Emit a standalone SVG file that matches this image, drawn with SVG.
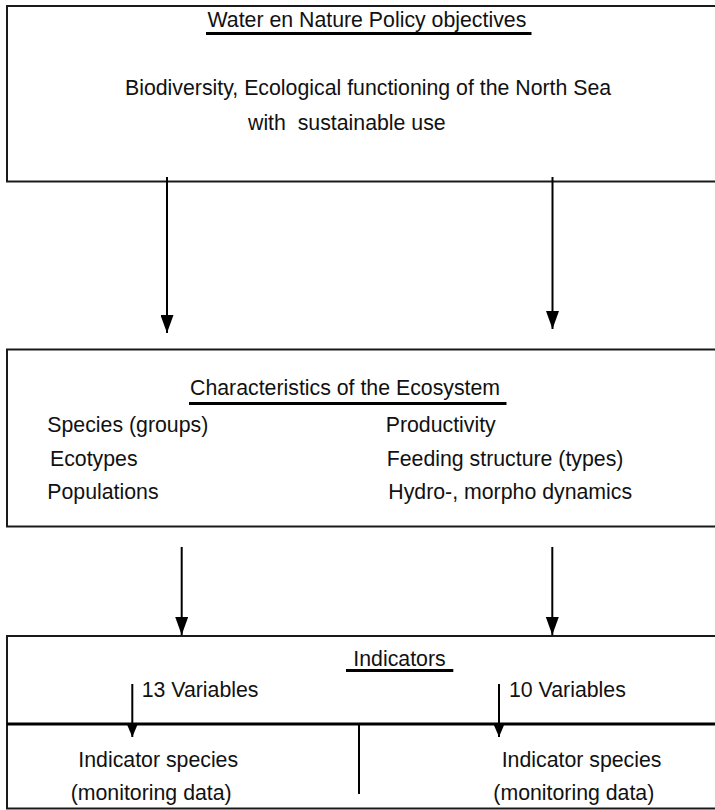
<svg xmlns="http://www.w3.org/2000/svg" width="715" height="810" viewBox="0 0 715 810">
<style>
  .box { fill: none; stroke: #1a1a1a; stroke-width: 2; }
  .t { font-family: "Liberation Sans", Arial, sans-serif; font-size: 21.3px; fill: #111; }
  .ul { stroke: #000; stroke-width: 3; }
  .conn { stroke: #000; stroke-width: 2; fill: none; }
  .div { stroke: #000; stroke-width: 3; }
</style>
<defs>
  <marker id="ah" markerUnits="userSpaceOnUse" markerWidth="18" markerHeight="13" viewBox="0 0 18 13" refX="18" refY="6.5" orient="auto">
    <path d="M0,0 L18,6.5 L0,13 z" fill="#000"/>
  </marker>
  <marker id="ahs" markerUnits="userSpaceOnUse" markerWidth="13" markerHeight="11" viewBox="0 0 13 11" refX="13" refY="5.5" orient="auto">
    <path d="M0,0 L13,5.5 L0,11 z" fill="#000"/>
  </marker>
</defs>
<rect width="715" height="810" fill="#fff"/>

<g id="policy">
  <rect class="box" x="7" y="6" width="720" height="175.5"/>
  <text class="t" x="207.5" y="27">Water en Nature Policy objectives</text>
  <line class="ul" x1="206" y1="33.5" x2="531.5" y2="33.5"/>
  <text class="t" x="125" y="95">Biodiversity, Ecological functioning of the North Sea</text>
  <text class="t" x="248" y="130" xml:space="preserve">with  sustainable use</text>
</g>

<g id="characteristics">
  <rect class="box" x="7" y="349.5" width="720" height="177"/>
  <text class="t" x="190" y="395">Characteristics of the Ecosystem</text>
  <line class="ul" x1="189" y1="403.5" x2="506.5" y2="403.5"/>
  <text class="t" x="47.3" y="431.7">Species (groups)</text>
  <text class="t" x="50" y="465.7">Ecotypes</text>
  <text class="t" x="47.3" y="499.3">Populations</text>
  <text class="t" x="385.7" y="431.7">Productivity</text>
  <text class="t" x="386.7" y="465.7">Feeding structure (types)</text>
  <text class="t" x="388.3" y="499.3">Hydro-, morpho dynamics</text>
</g>

<g id="indicators">
  <rect class="box" x="7" y="636" width="720" height="172.5"/>
  <text class="t" x="353.3" y="666">Indicators</text>
  <line class="ul" x1="346" y1="670.5" x2="453.3" y2="670.5"/>
  <text class="t" x="141.7" y="697.3">13 Variables</text>
  <text class="t" x="509" y="697.3">10 Variables</text>
  <line class="div" x1="7" y1="724" x2="720" y2="724"/>
  <line class="conn" x1="359" y1="724" x2="359" y2="794"/>
</g>

<g id="species-left">
  <text class="t" x="78.3" y="766.7">Indicator species</text>
  <text class="t" x="70.7" y="800">(monitoring data)</text>
</g>

<g id="species-right">
  <text class="t" x="501.7" y="766.7">Indicator species</text>
  <text class="t" x="493.3" y="800">(monitoring data)</text>
</g>

<g id="connectors">
  <line class="conn" x1="167" y1="177" x2="167" y2="333" marker-end="url(#ah)"/>
  <line class="conn" x1="552.5" y1="177" x2="552.5" y2="329" marker-end="url(#ah)"/>
  <line class="conn" x1="181.7" y1="547" x2="181.7" y2="635" marker-end="url(#ah)"/>
  <line class="conn" x1="552.3" y1="547" x2="552.3" y2="635" marker-end="url(#ah)"/>
  <line class="conn" x1="132.3" y1="684" x2="132.3" y2="737" marker-end="url(#ahs)"/>
  <line class="conn" x1="499" y1="684" x2="499" y2="737" marker-end="url(#ahs)"/>
</g>
</svg>
